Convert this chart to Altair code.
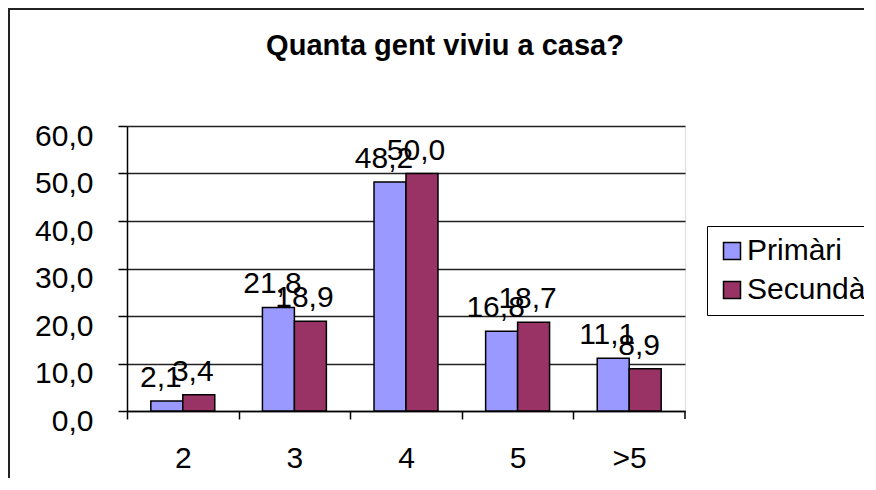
import altair as alt
import pandas as pd

categories = ["2", "3", "4", "5", ">5"]
primaria = [2.1, 21.8, 48.2, 16.8, 11.1]
secundaria = [3.4, 18.9, 50.0, 18.7, 8.9]
series = ["Primàri", "Secundàr"]
colors = ["#9999FF", "#993366"]
y_ticks = [0, 10, 20, 30, 40, 50, 60]

rows = []
for c, p, s in zip(categories, primaria, secundaria):
    rows.append({"cat": c, "serie": series[0], "v": p})
    rows.append({"cat": c, "serie": series[1], "v": s})
df = pd.DataFrame(rows)

W, H = 558, 285
step = W / len(categories)
FONT = "Liberation Sans"
FS = 30

x = alt.X(
    "cat:N", sort=categories, title=None,
    scale=alt.Scale(paddingInner=0.427, paddingOuter=0.2135),
    axis=alt.Axis(labelAngle=0, tickOffset=-step / 2, labelOffset=step / 2,
                  tickSize=8, labelPadding=24, labelFontSize=FS, labelFont=FONT,
                  labelColor="black", domainColor="black", tickColor="black",
                  domainWidth=1.5, tickWidth=1.5, grid=False),
)
y = alt.Y(
    "v:Q", title=None, scale=alt.Scale(domain=[0, 60]),
    axis=alt.Axis(values=y_ticks, labelExpr="replace(format(datum.value, '.1f'), '.', ',')",
                  tickSize=9, labelPadding=25, labelOffset=10, labelFontSize=FS,
                  labelFont=FONT, labelColor="black", grid=True, gridColor="#222222",
                  gridWidth=1.5, domainColor="black", tickColor="black",
                  domainWidth=1.5, tickWidth=1.5),
)
xoff = alt.XOffset("serie:N", sort=series, scale=alt.Scale(paddingInner=0, paddingOuter=0))

base = alt.Chart(df)

bars = base.mark_bar(stroke="black", strokeWidth=1.5).encode(
    x=x, y=y, xOffset=xoff,
    color=alt.Color(
        "serie:N", sort=series, scale=alt.Scale(domain=series, range=colors),
        legend=alt.Legend(title=None, orient="none", legendX=580, legendY=100,
                          symbolType="square", symbolSize=289,
                          symbolStrokeColor="black", symbolStrokeWidth=1.5,
                          labelFontSize=FS, labelFont=FONT, labelColor="black",
                          strokeColor="black", fillColor="white", padding=10,
                          rowPadding=9, labelOffset=0),
    ),
)

labels = base.transform_calculate(
    lbl="replace(format(datum.v, '.1f'), '.', ',')"
).mark_text(dy=-14, dx=-6, baseline="alphabetic", fontSize=FS, font=FONT,
            color="black").encode(
    x=x, y=y, xOffset=xoff, text="lbl:N"
)

end_tick = alt.Chart(pd.DataFrame({"t": [0]})).mark_rule(
    color="black", strokeWidth=1.5
).encode(x=alt.value(W), y=alt.value(H), y2=alt.value(H + 8))

border = alt.Chart(pd.DataFrame({"b": [0]})).mark_rect(
    fillOpacity=0, stroke="#222222", strokeWidth=2
).encode(x=alt.value(-118), y=alt.value(-117), x2=alt.value(W + 300),
         y2=alt.value(H + 300))

chart = alt.layer(border, bars, labels, end_tick).properties(
    width=W, height=H,
    padding={"left": 119, "top": 118, "right": 179, "bottom": 67},
    autosize=alt.AutoSizeParams(type="none"),
    title=alt.Title("Quanta gent viviu a casa?", fontSize=29, fontWeight="bold",
                    font=FONT, color="black", anchor="middle", frame="group",
                    dx=39, dy=67, offset=14),
).configure_view(
    fill="#C0C0C0", stroke="#808080", strokeWidth=2
).configure(background="white")

chart.save("out.html", embed_options={"renderer": "svg", "actions": False})
